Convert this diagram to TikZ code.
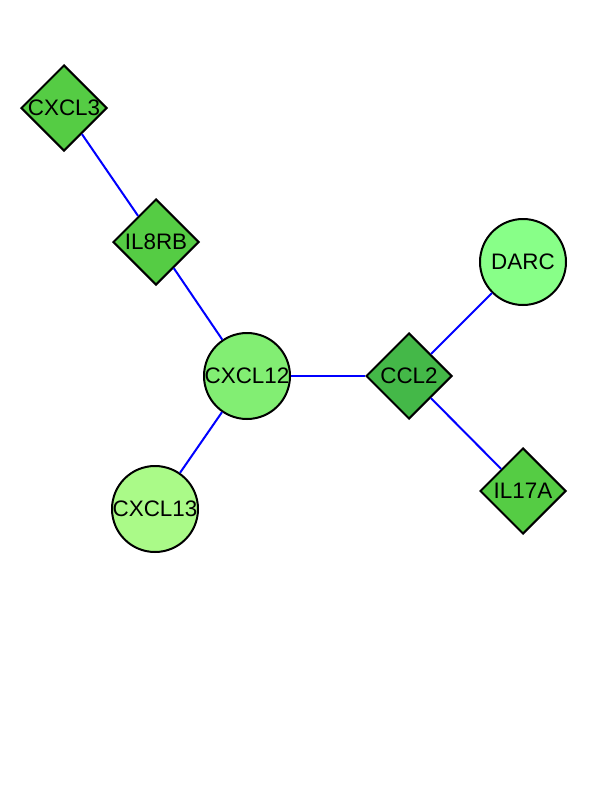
\documentclass[tikz,border=0pt]{standalone}
\usepackage{fontspec}
\setmainfont{Liberation Sans}
\usetikzlibrary{shapes.geometric}
\definecolor{dgreen}{RGB}{85,204,68}
\definecolor{ccltwo}{RGB}{68,184,72}
\definecolor{cxcltwelve}{RGB}{130,238,115}
\definecolor{darc}{RGB}{136,255,136}
\definecolor{cxclthirteen}{RGB}{170,250,136}
\definecolor{edgeblue}{RGB}{0,0,255}
\tikzset{
  gene/.style={draw=black,line width=2bp,inner sep=0pt,
    label={[font=\fontsize{22.5}{22.5}\selectfont,text=black]center:#1}},
  dnode/.style={gene=#1,diamond,aspect=1,minimum width=86bp,minimum height=86bp},
  cnode/.style={gene=#1,circle,minimum size=86bp},
  edge/.style={draw=edgeblue,line width=2bp}
}
\begin{document}
\begin{tikzpicture}[x=1bp,y=-1bp]
\useasboundingbox (0,0) rectangle (612,792);
\node[dnode=CXCL3,fill=dgreen] (cxcl3) at (64,108) {};
\node[dnode=IL8RB,fill=dgreen] (il8rb) at (156,242) {};
\node[cnode=CXCL12,fill=cxcltwelve] (cxcl12) at (247,376) {};
\node[dnode=CCL2,fill=ccltwo] (ccl2) at (409,376) {};
\node[cnode=DARC,fill=darc] (darc) at (523,262) {};
\node[dnode=IL17A,fill=dgreen] (il17a) at (523,491) {};
\node[cnode=CXCL13,fill=cxclthirteen] (cxcl13) at (155,509) {};
\draw[edge] (cxcl3) -- (il8rb);
\draw[edge] (il8rb) -- (cxcl12);
\draw[edge] (cxcl12) -- (cxcl13);
\draw[edge] (cxcl12) -- (ccl2);
\draw[edge] (ccl2) -- (darc);
\draw[edge] (ccl2) -- (il17a);
\end{tikzpicture}
\end{document}
